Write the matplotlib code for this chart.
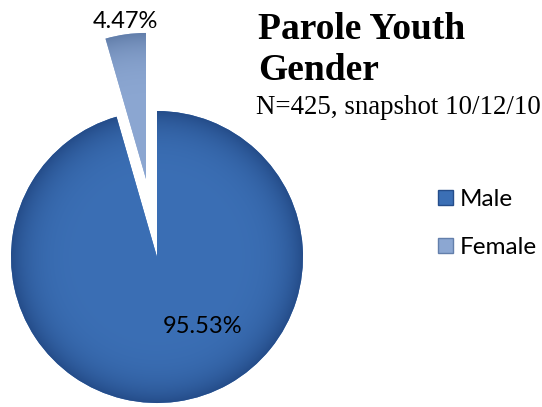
import numpy as np
import matplotlib
matplotlib.use("Agg")
import matplotlib.pyplot as plt
from matplotlib.patches import Rectangle

# parole youth by gender, snapshot 10/12/10
genders = ["Male", "Female"]
shares = [95.53, 4.47]
n_youth = 425
snapshot = "10/12/10"

base_colors = ["#3b6fb5", "#8ca7d2"]
rim_colors = ["#254d8a", "#637fab"]
explode = [0.0, 0.54]

W, H = 542, 407
cx_px, cy_px, r_px = 157, 257, 146

fig = plt.figure(figsize=(W / 100, H / 100), dpi=100)
ax = fig.add_axes([0, 0, 1, 1])


def px(x, y):
    # pixel position -> data units (pie radius = 1)
    return (x - cx_px) / r_px, (cy_px - y) / r_px


wedges, _, pct_texts = ax.pie(
    shares,
    explode=explode,
    startangle=90,
    counterclock=False,
    colors=base_colors,
    radius=1,
    autopct="%.2f%%",
    textprops=dict(family="Lato", fontsize=17, color="black"),
    wedgeprops=dict(linewidth=0),
)

# soft darkening towards the rim of each slice
for w, base, rim in zip(wedges, base_colors, rim_colors):
    wx, wy = w.center
    r = w.r
    yy, xx = np.mgrid[-1:1:300j, -1:1:300j]
    t = np.clip(np.hypot(xx, yy), 0, 1) ** 7
    b = np.array(matplotlib.colors.to_rgb(base))
    d = np.array(matplotlib.colors.to_rgb(rim))
    img = b * (1 - t[..., None]) + d * t[..., None]
    im = ax.imshow(img, extent=[wx - r, wx + r, wy - r, wy + r],
                   origin="lower", zorder=w.get_zorder() + 0.5,
                   interpolation="bilinear")
    im.set_clip_path(w)

pct_texts[0].set_position(px(203, 326.5))
pct_texts[1].set_position(px(125, 21.5))
for t in pct_texts:
    t.set_zorder(5)
    t.set_ha("center")
    t.set_va("center")

x0, x1 = px(0, 0)[0], px(W, 0)[0]
y1, y0 = px(0, 0)[1], px(0, H)[1]
ax.set_xlim(x0, x1)
ax.set_ylim(y0, y1)
ax.set_aspect("auto")
ax.axis("off")

# title block
fig.text(258 / W, 1 - 39 / H, "Parole Youth", family="Liberation Serif",
         fontweight="bold", fontsize=27, va="baseline")
fig.text(258 / W, 1 - 80 / H, "Gender", family="Liberation Serif",
         fontweight="bold", fontsize=27, va="baseline")
fig.text(256 / W, 1 - 114 / H, "N=%d, snapshot %s" % (n_youth, snapshot),
         family="Liberation Serif", fontsize=19.4, va="baseline")

# legend: square swatch + label, one row per slice
for i, (name, b, d) in enumerate(zip(genders, base_colors, rim_colors)):
    top = 190 + 48 * i
    fig.add_artist(Rectangle((438 / W, 1 - (top + 15) / H), 15 / W, 15 / H,
                             transform=fig.transFigure, facecolor=b,
                             edgecolor=d, linewidth=1))
    fig.text(460 / W, 1 - (top + 16) / H, name, family="Lato",
             fontsize=17.5, va="baseline")

fig.savefig("out.png", dpi=100, facecolor="white")
